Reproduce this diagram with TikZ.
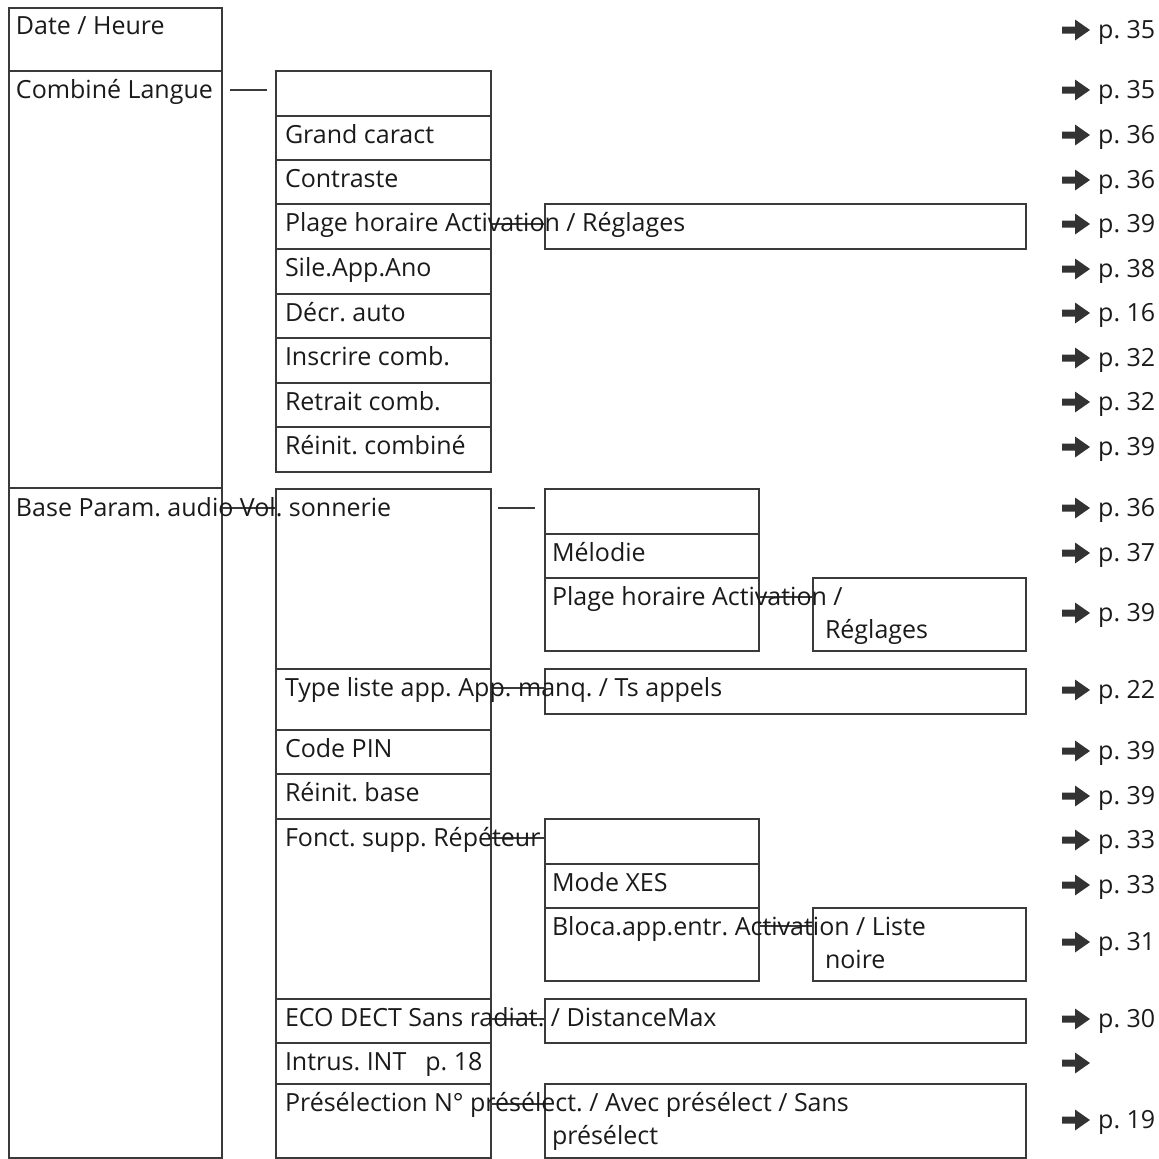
\documentclass[tikz,border=0pt]{standalone}
\usepackage{fontspec}
\setmainfont{Open Sans}
\frenchspacing
\definecolor{linec}{HTML}{3A3A3A}
\definecolor{textc}{HTML}{1A1A1A}
\definecolor{arrc}{HTML}{333333}
\newcommand{\fnt}{\fontsize{25}{30}\selectfont}
\tikzset{
  box/.style 2 args={draw=linec, line width=1.5pt, inner sep=0pt, outer sep=0pt,
    anchor=north west, minimum width=#1pt, minimum height=#2pt},
  lbl/.style={anchor=base west, inner sep=0pt, outer sep=0pt, font=\fnt, text=textc},
  link/.style={draw=linec, line width=1.5pt},
  pglbl/.style={anchor=base west, inner sep=0pt, font=\fnt, text=textc},
  parrow/.pic={\fill[arrc] (-14,-3.5) -- (-1,-3.5) -- (-1,-10.5) -- (14,0) -- (-1,10.5) -- (-1,3.5) -- (-14,3.5) -- cycle;}
}
\begin{document}
\begin{tikzpicture}[x=1pt,y=-1pt]
\useasboundingbox (0,0) rectangle (1159,1159);
% column 1
\node[box={213}{63}] (date) at (9,8) {};
\node[box={213}{417}] (comb) at (9,71) {};
\node[box={213}{670}] (base) at (9,488) {};
% column 2, combine
\node[box={215}{45}] (c2a) at (276,71) {};
\node[box={215}{44}] (c2b) at (276,116) {};
\node[box={215}{44}] (c2c) at (276,160) {};
\node[box={215}{45}] (c2d) at (276,204) {};
\node[box={215}{45}] (c2e) at (276,249) {};
\node[box={215}{44}] (c2f) at (276,294) {};
\node[box={215}{45}] (c2g) at (276,338) {};
\node[box={215}{44}] (c2h) at (276,383) {};
\node[box={215}{45}] (c2i) at (276,427) {};
% column 2, base
\node[box={215}{180}] (c2j) at (276,489) {};
\node[box={215}{61}] (c2k) at (276,669) {};
\node[box={215}{44}] (c2l) at (276,730) {};
\node[box={215}{45}] (c2m) at (276,774) {};
\node[box={215}{180}] (c2n) at (276,819) {};
\node[box={215}{44}] (c2o) at (276,999) {};
\node[box={215}{41}] (c2p) at (276,1043) {};
\node[box={215}{74}] (c2q) at (276,1084) {};
% column 3 / 4
\node[box={481}{45}] (c3a) at (545,204) {};
\node[box={214}{45}] (c3b) at (545,489) {};
\node[box={214}{44}] (c3c) at (545,534) {};
\node[box={214}{73}] (c3d) at (545,578) {};
\node[box={213}{73}] (c4a) at (813,578) {};
\node[box={481}{45}] (c3e) at (545,669) {};
\node[box={214}{45}] (c3f) at (545,819) {};
\node[box={214}{44}] (c3g) at (545,864) {};
\node[box={214}{73}] (c3h) at (545,908) {};
\node[box={213}{73}] (c4b) at (813,908) {};
\node[box={481}{44}] (c3i) at (545,999) {};
\node[box={481}{74}] (c3j) at (545,1084) {};
% connectors
\draw[link] ([xshift=8pt,yshift=-19pt]comb.north east) -- ([xshift=-9pt,yshift=-19pt]c2a.north west);
\draw[link] ([xshift=7pt,yshift=-19pt]c2j.north east) -- ([xshift=-10pt,yshift=-19pt]c3b.north west);
\draw[link] ([yshift=-20pt]base.north east) -- ([yshift=-19pt]c2j.north west);
\draw[link] ([yshift=-20pt]c2d.north east) -- ([yshift=-20pt]c3a.north west);
\draw[link] ([yshift=-19pt]c3d.north east) -- ([yshift=-19pt]c4a.north west);
\draw[link] ([yshift=-19pt]c2k.north east) -- ([yshift=-19pt]c3e.north west);
\draw[link] ([yshift=-19pt]c2n.north east) -- ([yshift=-19pt]c3f.north west);
\draw[link] ([yshift=-18pt]c3h.north east) -- ([yshift=-18pt]c4b.north west);
\draw[link] ([yshift=-20pt]c2o.north east) -- ([yshift=-20pt]c3i.north west);
\draw[link] ([yshift=-20pt]c2q.north east) -- ([yshift=-20pt]c3j.north west);
% texts
\node[lbl] (t1) at (16,34) {Date / Heure};
\node[lbl] (t2) at (16,98) {Combiné Langue};
\node[lbl] (t3) at (285,143) {Grand caract};
\node[lbl] (t4) at (285,187) {Contraste};
\node[lbl] (t5) at (285,231) {Plage horaire Activation / Réglages};
\node[lbl] (t6) at (285,276) {Sile.App.Ano};
\node[lbl] (t7) at (285,321) {Décr. auto};
\node[lbl] (t8) at (285,365) {Inscrire comb.};
\node[lbl] (t9) at (285,410) {Retrait comb.};
\node[lbl] (t10) at (285,454) {Réinit. combiné};
\node[lbl] (t11) at (16,516) {Base Param. audio Vol. sonnerie};
\node[lbl] (t12) at (552,561) {Mélodie};
\node[lbl] (t13) at (552,605) {Plage horaire Activation /};
\node[lbl] (t14) at (825,638) {Réglages};
\node[lbl] (t15) at (285,696) {Type liste app. App. manq. / Ts appels};
\node[lbl] (t16) at (285,757) {Code PIN};
\node[lbl] (t17) at (285,801) {Réinit. base};
\node[lbl] (t18) at (285,846) {Fonct. supp. Répéteur};
\node[lbl] (t19) at (552,891) {Mode XES};
\node[lbl] (t20) at (552,935) {Bloca.app.entr. Activation / Liste};
\node[lbl] (t21) at (825,968) {noire};
\node[lbl] (t22) at (285,1026) {ECO DECT Sans radiat. / DistanceMax};
\node[lbl] (t23) at (285,1070) {Intrus. INT\hspace{0.5em} p. 18};
\node[lbl] (t24) at (285,1111) {Présélection N° présélect. / Avec présélect / Sans};
\node[lbl] (t25) at (552,1144) {présélect};
% page references
\foreach \yy/\pg [count=\i] in {30/35, 90/35, 135/36, 180/36, 224/39, 269/38, 313/16, 358/32, 402/32, 447/39, 508/36, 553/37, 613/39, 690/22, 751/39, 796/39, 840/33, 885/33, 942/31, 1019/30, 1120/19}{
  \pic at (1076,\yy) {parrow};
  \node[pglbl] (pg\i) at (1098,\yy+8) {p. \pg};
}
\pic at (1076,1063) {parrow};
\end{tikzpicture}
\end{document}
